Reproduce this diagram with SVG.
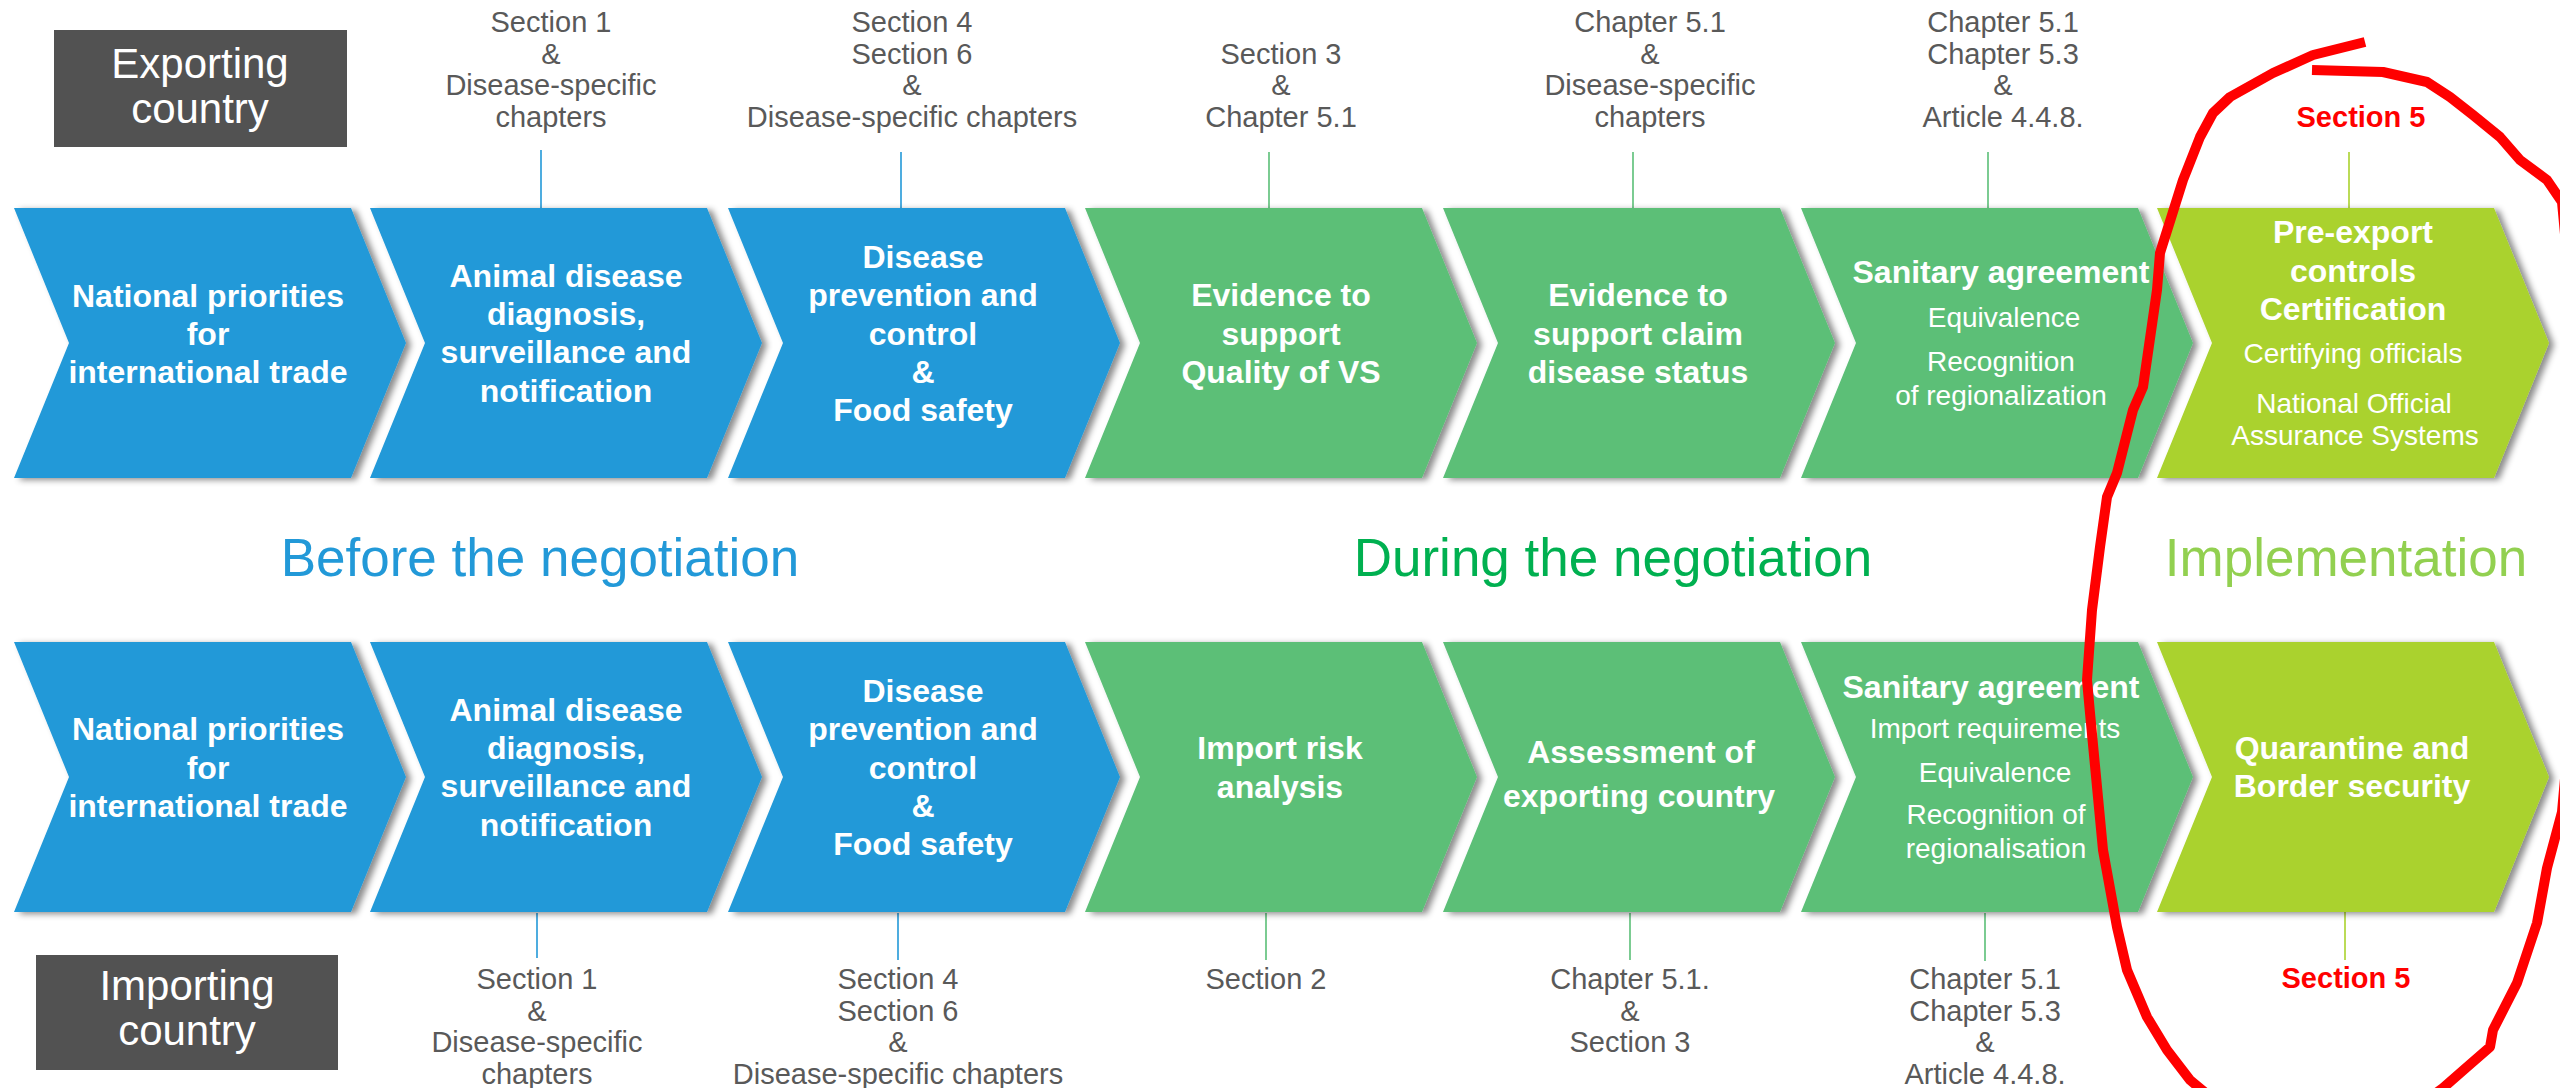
<svg xmlns="http://www.w3.org/2000/svg" xmlns:xlink="http://www.w3.org/1999/xlink" width="2560" height="1088" viewBox="0 0 2560 1088">
<style>
text{font-family:"Liberation Sans",Arial,sans-serif;text-anchor:middle}
.b{font-size:32px;font-weight:bold;fill:#fff}
.r{font-size:28px;fill:#fff}
.lab{font-size:29px;fill:#595959}
.red{font-size:29px;font-weight:bold;fill:#ff0000}
.box{fill:#525252}
.boxt{font-size:42px;fill:#fff}
.blue{fill:#2299d8}
.green{fill:#5bbf77}
.lime{fill:#aad22d}
.phase{font-size:53px}
.cb{stroke:#2299d8;stroke-width:1.6}
.cg{stroke:#5bbf77;stroke-width:1.6}
.cl{stroke:#aad22d;stroke-width:1.6}
</style>
<defs>
<filter id="sh" x="-5%" y="-10%" width="115%" height="125%">
<feDropShadow dx="5" dy="2" stdDeviation="3" flood-color="#000" flood-opacity="0.45"/>
</filter>
<path id="chev" d="M0,0 H337 L392,135 L337,270 H0 L55,135 Z"/>
</defs>
<rect width="2560" height="1088" fill="#fff"/>

<g id="exporting-country">
<rect class="box" x="54" y="30" width="293" height="117"/>
<text class="boxt" x="200" y="78">Exporting</text>
<text class="boxt" x="200" y="123">country</text>
</g>
<g id="importing-country">
<rect class="box" x="36" y="955" width="302" height="115"/>
<text class="boxt" x="187" y="1000">Importing</text>
<text class="boxt" x="187" y="1045">country</text>
</g>

<g id="phase-titles">
<text class="phase" x="540" y="576" fill="#2299d8">Before the negotiation</text>
<text class="phase" x="1613" y="576" fill="#00b050">During the negotiation</text>
<text class="phase" x="2346" y="576" fill="#92d050">Implementation</text>
</g>

<g id="connectors">
<line class="cb" x1="541" y1="150" x2="541" y2="208"/>
<line class="cb" x1="901" y1="152" x2="901" y2="208"/>
<line class="cg" x1="1269" y1="152" x2="1269" y2="208"/>
<line class="cg" x1="1633" y1="152" x2="1633" y2="208"/>
<line class="cg" x1="1988" y1="152" x2="1988" y2="208"/>
<line class="cl" x1="2349" y1="152" x2="2349" y2="208"/>
<line class="cb" x1="537" y1="913" x2="537" y2="958"/>
<line class="cb" x1="898" y1="913" x2="898" y2="960"/>
<line class="cg" x1="1266" y1="913" x2="1266" y2="960"/>
<line class="cg" x1="1630" y1="913" x2="1630" y2="960"/>
<line class="cg" x1="1985" y1="913" x2="1985" y2="961"/>
<line class="cl" x1="2345" y1="912" x2="2345" y2="960"/>
</g>

<g id="top-labels">
<g id="tl1"><text class="lab" x="551" y="32">Section 1</text><text class="lab" x="551" y="63.5">&amp;</text><text class="lab" x="551" y="95">Disease-specific</text><text class="lab" x="551" y="126.5">chapters</text></g>
<g id="tl2"><text class="lab" x="912" y="32">Section 4</text><text class="lab" x="912" y="63.5">Section 6</text><text class="lab" x="912" y="95">&amp;</text><text class="lab" x="912" y="126.5">Disease-specific chapters</text></g>
<g id="tl3"><text class="lab" x="1281" y="63.5">Section 3</text><text class="lab" x="1281" y="95">&amp;</text><text class="lab" x="1281" y="126.5">Chapter 5.1</text></g>
<g id="tl4"><text class="lab" x="1650" y="32">Chapter 5.1</text><text class="lab" x="1650" y="63.5">&amp;</text><text class="lab" x="1650" y="95">Disease-specific</text><text class="lab" x="1650" y="126.5">chapters</text></g>
<g id="tl5"><text class="lab" x="2003" y="32">Chapter 5.1</text><text class="lab" x="2003" y="63.5">Chapter 5.3</text><text class="lab" x="2003" y="95">&amp;</text><text class="lab" x="2003" y="126.5">Article 4.4.8.</text></g>
<g id="tl6"><text class="red" x="2361" y="127">Section 5</text></g>
</g>

<g id="bottom-labels">
<g id="bl1"><text class="lab" x="537" y="989">Section 1</text><text class="lab" x="537" y="1020.5">&amp;</text><text class="lab" x="537" y="1052">Disease-specific</text><text class="lab" x="537" y="1083.5">chapters</text></g>
<g id="bl2"><text class="lab" x="898" y="989">Section 4</text><text class="lab" x="898" y="1020.5">Section 6</text><text class="lab" x="898" y="1052">&amp;</text><text class="lab" x="898" y="1083.5">Disease-specific chapters</text></g>
<g id="bl3"><text class="lab" x="1266" y="989">Section 2</text></g>
<g id="bl4"><text class="lab" x="1630" y="989">Chapter 5.1.</text><text class="lab" x="1630" y="1020.5">&amp;</text><text class="lab" x="1630" y="1052">Section 3</text></g>
<g id="bl5"><text class="lab" x="1985" y="989">Chapter 5.1</text><text class="lab" x="1985" y="1020.5">Chapter 5.3</text><text class="lab" x="1985" y="1052">&amp;</text><text class="lab" x="1985" y="1083.5">Article 4.4.8.</text></g>
<g id="bl6"><text class="red" x="2346" y="988">Section 5</text></g>
</g>

<g id="exp-1"><use href="#chev" x="14" y="208" class="blue" filter="url(#sh)"/>
<text class="b" x="208" y="307">National priorities</text><text class="b" x="208" y="345">for</text><text class="b" x="208" y="383">international trade</text></g>
<g id="exp-2"><use href="#chev" x="370" y="208" class="blue" filter="url(#sh)"/>
<text class="b" x="566" y="287">Animal disease</text><text class="b" x="566" y="325">diagnosis,</text><text class="b" x="566" y="363">surveillance and</text><text class="b" x="566" y="402">notification</text></g>
<g id="exp-3"><use href="#chev" x="728" y="208" class="blue" filter="url(#sh)"/>
<text class="b" x="923" y="268">Disease</text><text class="b" x="923" y="306">prevention and</text><text class="b" x="923" y="345">control</text><text class="b" x="923" y="383">&amp;</text><text class="b" x="923" y="421">Food safety</text></g>
<g id="exp-4"><use href="#chev" x="1085" y="208" class="green" filter="url(#sh)"/>
<text class="b" x="1281" y="306">Evidence to</text><text class="b" x="1281" y="345">support</text><text class="b" x="1281" y="383">Quality of VS</text></g>
<g id="exp-5"><use href="#chev" x="1443" y="208" class="green" filter="url(#sh)"/>
<text class="b" x="1638" y="306">Evidence to</text><text class="b" x="1638" y="345">support claim</text><text class="b" x="1638" y="383">disease status</text></g>
<g id="exp-6"><use href="#chev" x="1801" y="208" class="green" filter="url(#sh)"/>
<text class="b" x="2001" y="283">Sanitary agreement</text><text class="r" x="2004" y="327">Equivalence</text><text class="r" x="2001" y="371">Recognition</text><text class="r" x="2001" y="405">of regionalization</text></g>
<g id="exp-7"><use href="#chev" x="2157" y="208" class="lime" filter="url(#sh)"/>
<text class="b" x="2353" y="243">Pre-export</text><text class="b" x="2353" y="282">controls</text><text class="b" x="2353" y="320">Certification</text><text class="r" x="2353" y="363">Certifying officials</text><text class="r" x="2354" y="413">National Official</text><text class="r" x="2355" y="445">Assurance Systems</text></g>

<g id="imp-1"><use href="#chev" x="14" y="642" class="blue" filter="url(#sh)"/>
<text class="b" x="208" y="740">National priorities</text><text class="b" x="208" y="779">for</text><text class="b" x="208" y="817">international trade</text></g>
<g id="imp-2"><use href="#chev" x="370" y="642" class="blue" filter="url(#sh)"/>
<text class="b" x="566" y="721">Animal disease</text><text class="b" x="566" y="759">diagnosis,</text><text class="b" x="566" y="797">surveillance and</text><text class="b" x="566" y="836">notification</text></g>
<g id="imp-3"><use href="#chev" x="728" y="642" class="blue" filter="url(#sh)"/>
<text class="b" x="923" y="702">Disease</text><text class="b" x="923" y="740">prevention and</text><text class="b" x="923" y="779">control</text><text class="b" x="923" y="817">&amp;</text><text class="b" x="923" y="855">Food safety</text></g>
<g id="imp-4"><use href="#chev" x="1085" y="642" class="green" filter="url(#sh)"/>
<text class="b" x="1280" y="759">Import risk</text><text class="b" x="1280" y="798">analysis</text></g>
<g id="imp-5"><use href="#chev" x="1443" y="642" class="green" filter="url(#sh)"/>
<text class="b" x="1641" y="763">Assessment of</text><text class="b" x="1639" y="807">exporting country</text></g>
<g id="imp-6"><use href="#chev" x="1801" y="642" class="green" filter="url(#sh)"/>
<text class="b" x="1991" y="698">Sanitary agreement</text><text class="r" x="1995" y="738">Import requirements</text><text class="r" x="1995" y="782">Equivalence</text><text class="r" x="1996" y="824">Recognition of</text><text class="r" x="1996" y="858">regionalisation</text></g>
<g id="imp-7"><use href="#chev" x="2157" y="642" class="lime" filter="url(#sh)"/>
<text class="b" x="2352" y="759">Quarantine and</text><text class="b" x="2352" y="797">Border security</text></g>

<g id="red-circle">
<path d="M2312,70 L2383,72 L2427,82 L2450,97 L2473,115 L2500,137 L2520,160 L2547,180 L2562,202 L2590,500 L2562,812 L2547,868 L2537,923 L2517,983 L2493,1030 L2490,1047 L2467,1067 L2443,1088 L2420,1105 L2220,1105 L2190,1080 L2167,1050 L2147,1017 L2127,970 L2117,927 L2103,850 L2090,713 L2087,680 L2092,610 L2100,547 L2107,497 L2117,473 L2133,410 L2143,387 L2157,290 L2160,253 L2183,180 L2187,170 L2200,137 L2213,113 L2230,97 L2273,73 L2313,55 L2365,42" fill="none" stroke="#ff0000" stroke-width="10" stroke-linejoin="round"/>
</g>
</svg>
